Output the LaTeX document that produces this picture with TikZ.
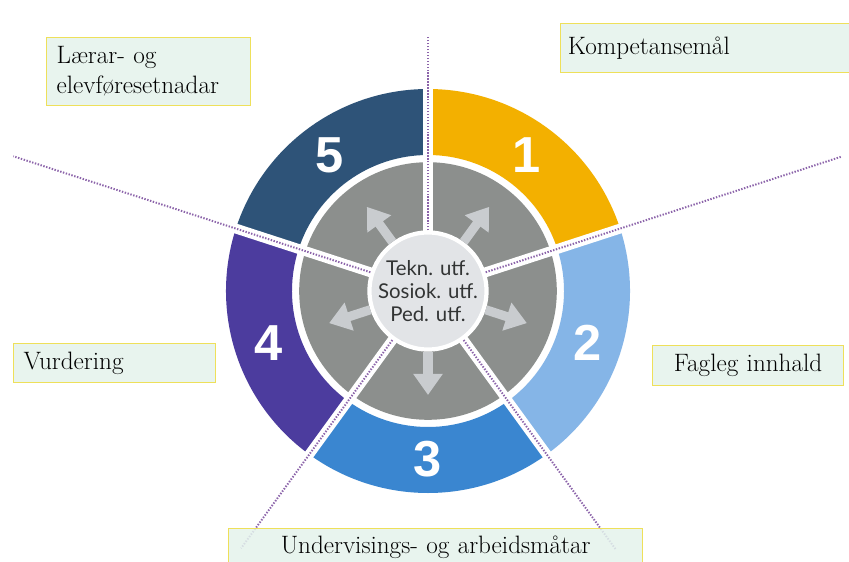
\documentclass[tikz,border=0pt]{standalone}
\usepackage{fontspec}
\usepackage{tikz}
\usepackage{xcolor}
\usetikzlibrary{arrows.meta, positioning, calc}
\newfontfamily\hubfont{Lato}
\newfontfamily\numberfont{Liberation Sans}
\definecolor{segone}{RGB}{243,176,0}
\definecolor{segtwo}{RGB}{133,181,231}
\definecolor{segthree}{RGB}{58,134,208}
\definecolor{segfour}{RGB}{76,60,158}
\definecolor{segfive}{RGB}{46,83,120}
\definecolor{discgray}{RGB}{140,143,141}
\definecolor{hubgray}{RGB}{226,228,231}
\definecolor{hubtext}{RGB}{50,52,52}
\definecolor{spokegray}{RGB}{201,204,207}
\definecolor{guideline}{RGB}{140,100,170}
\definecolor{boxfill}{RGB}{228,243,236}
\definecolor{boxline}{RGB}{238,224,90}
\tikzstyle{topic} = [draw=boxline, fill=boxfill, fill opacity=0.85, text opacity=1, line width=0.9pt, rectangle, inner xsep=0.25cm, inner ysep=0.1cm, anchor=north west, font=\fontsize{17.9}{21.3}\selectfont]
\tikzstyle{number} = [text=white, font=\numberfont\bfseries\fontsize{36}{36}\selectfont]
\tikzstyle{hub} = [circle, draw=white, line width=3pt, fill=hubgray, minimum size=2.84cm, inner sep=0pt, align=center, text=hubtext, font=\hubfont\fontsize{14.5}{16.5}\selectfont]
\tikzstyle{spoke} = [draw=spokegray, line width=6.5pt, -{Triangle[length=15pt,width=20pt]}]
\tikzstyle{guide} = [draw=guideline, line width=1.4pt, dash pattern=on 1pt off 1.1pt]
\tikzstyle{split} = [draw=white, line width=7pt]
\begin{document}
\begin{tikzpicture}
    \useasboundingbox (-10.7,-6.75) rectangle (10.525,7.275);
    \fill [white] (-10.7,-6.75) rectangle (10.525,7.275);

    % coloured outer ring with the five numbers
    \foreach \i/\col in {1/segone,2/segtwo,3/segthree,4/segfour,5/segfive} {
        \pgfmathsetmacro\a{162-72*\i}
        \pgfmathsetmacro\b{\a-72}
        \pgfmathsetmacro\m{\a-36}
        \fill [\col] (\a:5.05) arc [start angle=\a, end angle=\b, radius=5.05]
            -- (\b:3.4) arc [start angle=\b, end angle=\a, radius=3.4] -- cycle;
        \node (num\i) [number] at (\m:4.2) {\i};
    }
    \fill [discgray] (0,0) circle (3.22);
    \foreach \t in {90,18,-54,-126,162}
        \draw [split] (0,0) -- (\t:5.3);

    \node (core) [hub] at (0,0) {Tekn. utf.\\Sosiok. utf.\\Ped. utf.};

    \foreach \i in {1,...,5} {
        \pgfmathsetmacro\m{126-72*\i}
        \coordinate (tip\i) at (\m:2.6);
        \draw [spoke] (core) -- (tip\i);
    }
    \foreach \t/\r [count=\k] in {90/6.35,18/10.85,-54/8.0,-126/7.95,162/10.9} {
        \coordinate (ray\k) at (\t:\r);
        \draw [guide] (core) -- (ray\k);
    }

    \node (prereq) [topic, minimum width=5.1cm, minimum height=1.7cm, text width=4.6cm, align=left] at (-9.55,6.35) {Lærar- og\\elevføresetnadar};
    \node (goals) [topic, inner xsep=0.18cm, minimum height=1.225cm, text width=6.865cm, align=left] at (3.3,6.7) {Kompetansemål};
    \node (assess) [topic, minimum height=0.975cm, text width=4.55cm, align=left] at (-10.375,-1.3) {Vurdering};
    \node (content) [topic, minimum height=1.0cm, text width=4.275cm, align=center] at (5.6,-1.35) {Fagleg innhald};
    \node (methods) [topic, text width=9.85cm, text height=0.52cm, text depth=0.7cm, align=center] at (-5.0,-5.925) {Undervisings- og arbeidsmåtar};
\end{tikzpicture}
\end{document}
